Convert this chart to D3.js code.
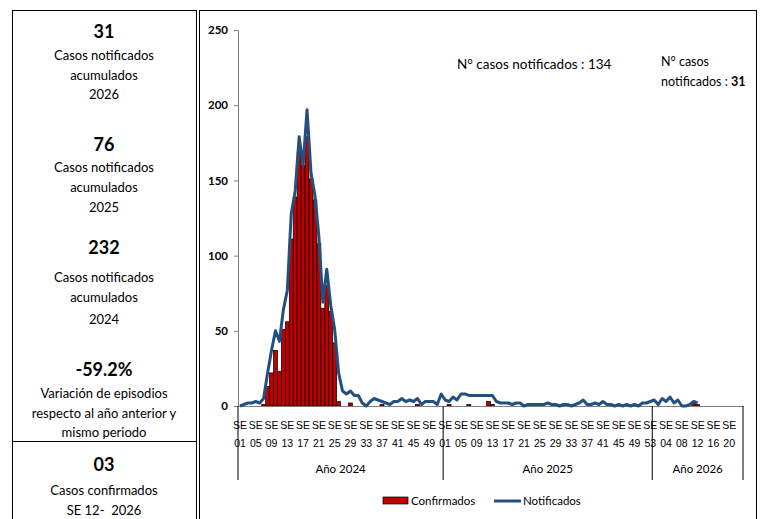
<!DOCTYPE html>
<html>
<head>
<meta charset="utf-8">
<script src="https://cdn.jsdelivr.net/npm/d3@7"></script>
<style>
  body { margin: 0; background: #fff; }
  svg { display: block; font-family: Lato, "Open Sans", sans-serif; }
</style>
</head>
<body>
<div id="chart"></div>
<script>
// years and number of epidemiological weeks shown in each
var years = ["2024", "2025", "2026"];
var weeksInYear = [52, 53, 23];

// notified cases per week
var notif2024 = [0, 1, 2, 2, 3, 2, 5, 22, 37, 50, 43, 64, 77, 128, 143, 179, 160, 197, 155, 140,
  113, 69, 91, 67, 51, 22, 10, 8, 10, 7, 7, 2, 0, 3, 5, 4, 3, 2, 1, 3,
  3, 5, 3, 4, 3, 5, 1, 3, 3, 3, 1, 8];
var notif2025 = [4, 3, 6, 4, 8, 8, 7, 7, 7, 7, 7, 7, 7, 3, 2, 2, 2, 1, 2, 2,
  0, 1, 1, 1, 1, 1, 2, 1, 1, 0, 1, 1, 0, 1, 2, 4, 1, 1, 2, 1,
  3, 1, 1, 0, 1, 0, 1, 0, 1, 0, 2, 2, 3];
var notif2026 = [4, 1, 5, 3, 6, 2, 4, 0, 0, 1, 3, 2];

// confirmed cases per week
var conf2024 = [0, 0, 0, 0, 0, 0, 1, 13, 22, 37, 23, 51, 56, 111, 139, 169, 160, 179, 151, 137,
  108, 65, 80, 63, 42, 3, 0, 0, 2, 0, 0, 0, 0, 0, 0, 0, 1, 0, 0, 0,
  0, 0, 0, 0, 0, 1, 0, 0, 0, 0, 0, 0];
var conf2025 = [0, 1, 0, 0, 0, 0, 1, 0, 0, 0, 0, 3, 1, 0, 0, 0, 0, 0, 0, 0,
  0, 0, 0, 0, 0, 0, 0, 0, 0, 0, 0, 0, 0, 0, 0, 0, 0, 0, 0, 0,
  0, 0, 0, 0, 0, 0, 0, 0, 0, 0, 0, 0, 0];
var conf2026 = [0, 0, 0, 0, 0, 0, 0, 0, 0, 0, 2, 1];

var yTicks = [0, 50, 100, 150, 200, 250];

// side panel texts
var panelNumbers = ["31", "76", "232", "-59.2%", "03"];
var panelLabels = [
  ["Casos notificados", "acumulados", "2026"],
  ["Casos notificados", "acumulados", "2025"],
  ["Casos notificados", "acumulados", "2024"],
  ["Variación de episodios", "respecto al año anterior y", "mismo periodo"],
  ["Casos confirmados", "SE 12-  2026"]
];

var svgWidth = 768,
  svgHeight = 519;

var svg = d3.select('#chart')
  .append('svg')
  .attr('width', svgWidth)
  .attr('height', svgHeight);

// ---- frames
svg.append('rect').attr('x', 12.5).attr('y', 10.5).attr('width', 184).attr('height', 530)
  .attr('fill', 'none').attr('stroke', '#000').attr('stroke-width', 1);
svg.append('line').attr('x1', 12.5).attr('x2', 196.5).attr('y1', 441.5).attr('y2', 441.5)
  .attr('stroke', '#000');
svg.append('rect').attr('x', 199.5).attr('y', 10.5).attr('width', 557).attr('height', 530)
  .attr('fill', 'none').attr('stroke', '#000').attr('stroke-width', 1);

// ---- side panel
var numberY = [32, 145, 248, 370, 465];
var labelY = [[55, 75, 94], [167, 187, 207], [277, 297, 319], [393, 413, 432], [490, 510]];
var panelX = 104;
panelNumbers.forEach(function(n, i) {
  svg.append('text')
    .attr('x', panelX).attr('y', numberY[i]).attr('dy', '0.36em')
    .attr('text-anchor', 'middle')
    .attr('font-size', '18px').attr('font-weight', 'bold')
    .text(n);
  panelLabels[i].forEach(function(l, j) {
    svg.append('text')
      .attr('x', panelX).attr('y', labelY[i][j]).attr('dy', '0.35em')
      .attr('text-anchor', 'middle')
      .attr('font-size', '13px')
      .style('white-space', 'pre')
      .text(l);
  });
});

// ---- build week categories
var weeks = [];
years.forEach(function(y, yi) {
  var nVals = [notif2024, notif2025, notif2026][yi];
  var cVals = [conf2024, conf2025, conf2026][yi];
  for (var w = 1; w <= weeksInYear[yi]; w++) {
    weeks.push({
      key: y + '-' + w,
      year: y,
      week: w,
      notif: nVals[w - 1],
      conf: cVals[w - 1]
    });
  }
});

var plotLeft = 238, plotRight = 743, plotTop = 30, plotBottom = 406;

var x = d3.scaleBand()
  .domain(weeks.map(function(d) { return d.key; }))
  .range([plotLeft, plotRight])
  .padding(0);

var y = d3.scaleLinear()
  .domain([0, 250])
  .range([plotBottom, plotTop]);

// ---- y axis
var gy = svg.append('g')
  .attr('transform', 'translate(' + plotLeft + ',0)')
  .call(d3.axisLeft(y).tickValues(yTicks).tickSize(4).tickPadding(6));
gy.select('.domain').attr('stroke', '#7f7f7f');
gy.selectAll('.tick line').attr('stroke', '#7f7f7f');
gy.selectAll('.tick text')
  .attr('font-size', '11.5px').attr('font-weight', 'bold')
  .attr('font-family', 'Lato, sans-serif').attr('fill', '#000');

// ---- bars (confirmados)
svg.append('g')
  .selectAll('rect')
  .data(weeks.filter(function(d) { return d.conf > 0; }))
  .enter()
  .append('rect')
  .attr('x', function(d) { return x(d.key); })
  .attr('y', function(d) { return y(d.conf); })
  .attr('width', x.bandwidth())
  .attr('height', function(d) { return y(0) - y(d.conf); })
  .attr('fill', '#c00000')
  .attr('stroke', '#000')
  .attr('stroke-width', 0.7);

// ---- x axis
var gx = svg.append('g')
  .attr('transform', 'translate(0,' + plotBottom + ')')
  .call(d3.axisBottom(x)
    .tickValues(weeks.filter(function(d, i) { return i % 4 === 0; }).map(function(d) { return d.key; }))
    .tickSize(0)
    .tickFormat(''));
gx.select('.domain').attr('stroke', '#7f7f7f');
gx.selectAll('.tick').each(function(k) {
  var wk = weeks.find(function(d) { return d.key === k; });
  var t = d3.select(this);
  t.append('text')
    .attr('y', 19).attr('dy', '0.35em')
    .attr('fill', '#000').attr('font-size', '10.5px')
    .text('SE');
  t.append('text')
    .attr('y', 37).attr('dy', '0.35em')
    .attr('fill', '#000').attr('font-size', '10.5px')
    .text(d3.format('02d')(wk.week));
});

// year separators and labels
var bounds = years.map(function(yr) { return x(yr + '-1'); }).concat([plotRight]);
bounds.forEach(function(bx) {
  svg.append('line')
    .attr('x1', bx).attr('x2', bx)
    .attr('y1', plotBottom).attr('y2', 480)
    .attr('stroke', '#000').attr('stroke-width', 1);
});
years.forEach(function(yr, i) {
  svg.append('text')
    .attr('x', (bounds[i] + bounds[i + 1]) / 2)
    .attr('y', 469).attr('dy', '0.35em')
    .attr('text-anchor', 'middle')
    .attr('font-size', '11.5px')
    .text('Año ' + yr);
});

// ---- line (notificados)
var line = d3.line()
  .x(function(d) { return x(d.key) + x.bandwidth() / 2; })
  .y(function(d) { return y(d.notif); });

svg.append('path')
  .datum(weeks.filter(function(d) { return d.notif !== undefined; }))
  .attr('d', line)
  .attr('fill', 'none')
  .attr('stroke', '#24507f')
  .attr('stroke-width', 3)
  .attr('stroke-linejoin', 'round');

// ---- annotations
svg.append('text')
  .attr('x', 457).attr('y', 64).attr('dy', '0.35em')
  .attr('font-size', '13.5px')
  .text('N° casos notificados : 134');
svg.append('text')
  .attr('x', 661).attr('y', 62).attr('dy', '0.35em')
  .attr('font-size', '12.5px')
  .text('N° casos');
var t2 = svg.append('text')
  .attr('x', 661).attr('y', 82).attr('dy', '0.35em')
  .attr('font-size', '12.5px');
t2.append('tspan').text('notificados : ');
t2.append('tspan').attr('font-weight', 'bold').text('31');

// ---- legend
var legend = svg.append('g');
legend.append('rect')
  .attr('x', 383).attr('y', 497).attr('width', 25).attr('height', 7)
  .attr('fill', '#c00000').attr('stroke', '#000').attr('stroke-width', 0.7);
legend.append('text')
  .attr('x', 411).attr('y', 501).attr('dy', '0.35em')
  .attr('font-size', '11.5px')
  .text('Confirmados');
legend.append('line')
  .attr('x1', 494).attr('x2', 521).attr('y1', 501).attr('y2', 501)
  .attr('stroke', '#24507f').attr('stroke-width', 3);
legend.append('text')
  .attr('x', 523).attr('y', 501).attr('dy', '0.35em')
  .attr('font-size', '11.5px')
  .text('Notificados');
</script>
</body>
</html>
